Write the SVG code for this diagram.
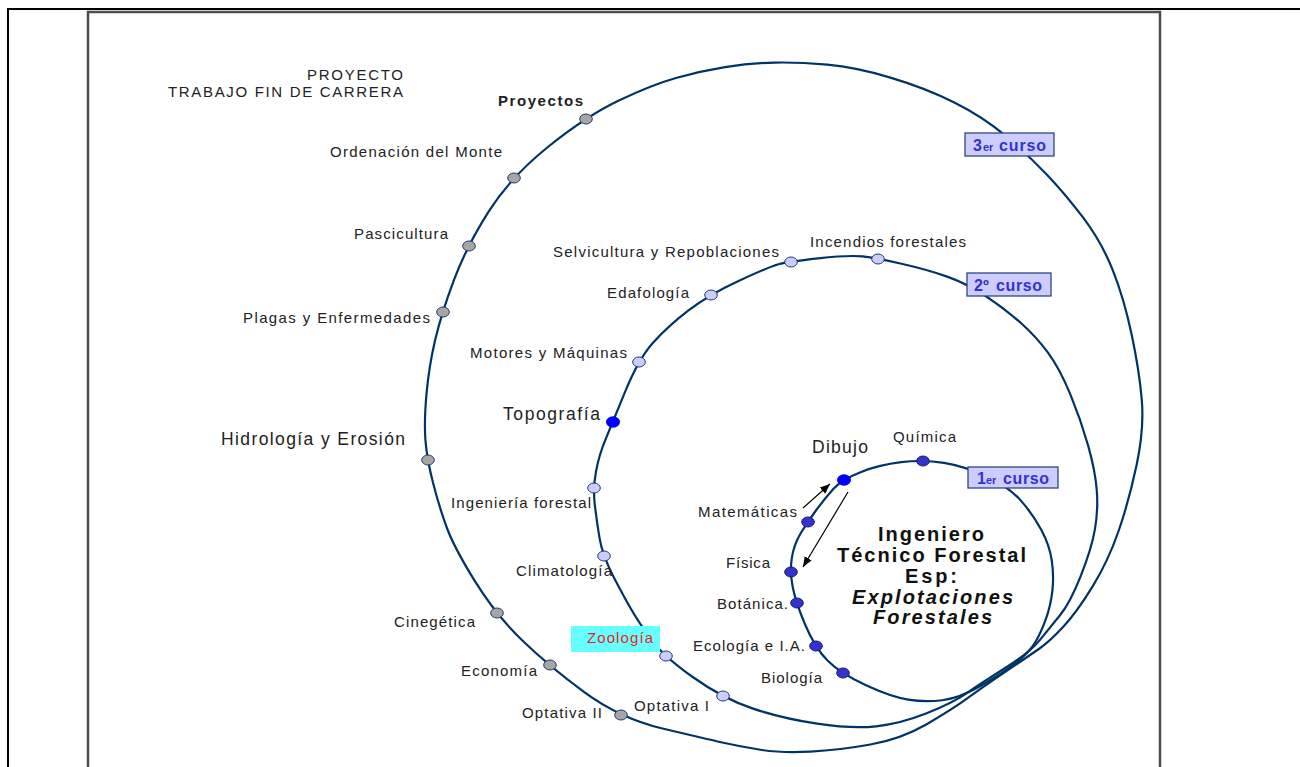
<svg xmlns="http://www.w3.org/2000/svg" width="1300" height="767" viewBox="0 0 1300 767">
<style>
.lbl{font-family:"Liberation Sans",Arial,sans-serif;font-size:15px;fill:#222}
.big{font-size:17.5px}
.b{font-weight:bold}
.curve{fill:none;stroke:#003366;stroke-width:2.2}
.arr{stroke:#000;stroke-width:1.2;fill:none;marker-end:url(#ah)}
.g3{fill:#a6a6a6;stroke:#1f3b6f;stroke-width:1}
.g2{fill:#ccccff;stroke:#1f3b6f;stroke-width:1}
.g1{fill:#3333cc;stroke:#1a1a80;stroke-width:1}
.g0{fill:#0000ff;stroke:none}
.cbox{fill:#ccccff;stroke:#2f4a7a;stroke-width:1.3}
.ct{font-family:"Liberation Sans",Arial,sans-serif;font-weight:bold;fill:#3333cc}
.center{font-family:"Liberation Sans",Arial,sans-serif;font-weight:bold;font-size:20px;fill:#111}
</style>
<defs>
<marker id="ah" markerUnits="userSpaceOnUse" markerWidth="11" markerHeight="9" refX="10" refY="4" orient="auto">
<path d="M0,0 L10,4 L0,8 z" fill="#000"/>
</marker>
</defs>
<rect x="0" y="0" width="1300" height="767" fill="#fff"/>
<g id="frames" fill="none">
<rect x="8" y="9" width="1310" height="790" stroke="#000" stroke-width="2"/>
<rect x="88" y="12" width="1072" height="790" stroke="#4d4d4d" stroke-width="2.5"/>
</g>
<g id="connectors">
<path class="curve" d="M774.55,62.6 Q799.1,62.1 827.4,64.7 Q855.75,67.25 890.4,77.6 Q925.1,87.9 954.3,102.4 Q983.5,116.9 1006.3,136.4 Q1029.1,155.9 1047.2,174.9 Q1065.25,193.9 1083.4,217.9 Q1101.5,241.9 1112.75,270.15 Q1124,298.4 1131.7,334.8 Q1139.4,371.25 1141.8,400 Q1144.25,428.75 1136.6,465 Q1128.9,501.25 1118.5,531.25 Q1108.1,561.25 1092.35,586.9 Q1076.6,612.5 1063.05,627.05 Q1049.5,641.6 1039.55,648.5 Q1029.6,655.4 1005.6,671.65 Q981.6,687.9 966.85,698.7 Q952.1,709.5 926.7,724.2 Q901.25,738.9 870.4,744.5 Q839.6,750.1 810.4,751.6 Q781.25,753.1 760.4,749.75 Q739.6,746.4 722.25,742.5 Q704.9,738.6 662.45,728.55 Q620,718.5 583.9,691.9 Q547.75,665.25 521.6,639.8 Q495.4,614.4 474.75,580.95 Q454.1,547.5 446.75,527.5 Q439.4,507.5 433.15,483.3 Q426.9,459.1 425.45,440.4 Q424,421.75 426.5,393.9 Q429,366 435.2,339.75 Q441.4,313.5 454,279.9 Q466.6,246.25 488.6,211.6 Q510.6,176.9 548.8,146.25 Q587,115.6 619.4,100.25 Q651.75,84.9 675.9,78 Q700,71.1 725,67.1 Q750,63.1 774.55,62.6 Z"/>
<path class="curve" d="M818.1,258.4 Q848.9,254.9 862.45,256.45 Q876,258 901.45,263.75 Q926.9,269.5 947.15,276.6 Q967.4,283.75 986.7,296.75 Q1006,309.75 1020.9,323 Q1035.75,336.25 1047.6,352.1 Q1059.4,367.9 1070.15,393.95 Q1080.9,420 1088.15,445.6 Q1095.4,471.25 1096.8,490.6 Q1098.25,510 1094.9,529.4 Q1091.6,548.75 1080.8,575.8 Q1070,602.9 1060.2,615 Q1050.4,627.1 1040,639.85 Q1029.6,652.6 1005.6,667.8 Q981.6,683 966.85,693.1 Q952.1,703.25 926.05,713.5 Q900,723.75 876.05,726.3 Q852.1,728.9 817.1,723.65 Q782.1,718.4 752.35,708.4 Q722.6,698.4 692.35,676.75 Q662.1,655.1 650.35,638.55 Q638.6,622 632.2,611.05 Q625.75,600.1 614,577.7 Q602.25,555.25 599.4,537.4 Q596.5,519.5 594.7,503.8 Q592.9,488.1 596,471.55 Q599.1,455 605.25,440.2 Q611.4,425.4 624.95,392.15 Q638.5,358.9 653,342.75 Q667.5,326.6 688.45,310.4 Q709.4,294.25 739.6,280.4 Q769.75,266.6 778.5,264.25 Q787.25,261.9 818.1,258.4 Z"/>
<path class="curve" d="M901.1,462.2 Q923.1,459.5 944.05,462.95 Q965,466.4 987.05,476.75 Q1009.1,487.1 1021.1,500.85 Q1033.1,514.6 1041.25,529.8 Q1049.4,545 1051.7,560 Q1054,575 1052.45,590.1 Q1050.9,605.25 1045.65,619.6 Q1040.4,634 1034.6,643.45 Q1028.75,652.9 1015.2,663.4 Q1001.6,673.9 980.5,686 Q959.4,698.1 942.2,700.25 Q925,702.4 908.25,699.7 Q891.5,697 866,685.3 Q840.5,673.6 827.75,660.8 Q815,648 805.2,624.75 Q795.4,601.5 792.6,586.5 Q789.75,571.5 791.8,558 Q793.9,544.5 800.7,533.25 Q807.5,522 816.1,510.25 Q824.75,498.5 833.3,488.95 Q841.9,479.4 860.5,472.15 Q879.1,464.9 901.1,462.2 Z"/>
<line class="arr" x1="803" y1="508" x2="830" y2="484"/>
<line class="arr" x1="848" y1="492" x2="803" y2="567"/>
</g>
<g id="title">
<text class="lbl" x="307" y="80" textLength="96" lengthAdjust="spacing">PROYECTO</text>
<text class="lbl" x="168" y="97" textLength="235" lengthAdjust="spacing">TRABAJO FIN DE CARRERA</text>
</g>
<g id="curso3">
<rect class="cbox" x="965" y="133" width="89" height="23"/>
<text class="ct" x="973" y="151" font-size="16">3</text>
<text class="ct" x="983" y="151" font-size="11">er</text>
<text class="ct" x="999" y="151" font-size="16" textLength="47" lengthAdjust="spacing">curso</text>
</g>
<g id="curso2">
<rect class="cbox" x="967" y="273" width="84" height="23"/>
<text class="ct" x="974" y="291" font-size="16">2º</text>
<text class="ct" x="996" y="291" font-size="16" textLength="46" lengthAdjust="spacing">curso</text>
</g>
<g id="curso1">
<rect class="cbox" x="968" y="467" width="90" height="21"/>
<text class="ct" x="977" y="484" font-size="16">1</text>
<text class="ct" x="986" y="484" font-size="11">er</text>
<text class="ct" x="1003" y="484" font-size="16" textLength="46" lengthAdjust="spacing">curso</text>
</g>
<g id="n-proyectos"><ellipse class="g3" cx="586" cy="119" rx="6.3" ry="5"/><text class="lbl b" x="498" y="106" textLength="85" lengthAdjust="spacing">Proyectos</text></g>
<g id="n-ordenacion"><ellipse class="g3" cx="514" cy="178" rx="6.3" ry="5"/><text class="lbl" x="330" y="157" textLength="172" lengthAdjust="spacing">Ordenación del Monte</text></g>
<g id="n-pascicultura"><ellipse class="g3" cx="469" cy="246" rx="6.3" ry="5"/><text class="lbl" x="354" y="239" textLength="94" lengthAdjust="spacing">Pascicultura</text></g>
<g id="n-plagas"><ellipse class="g3" cx="443" cy="312" rx="6.3" ry="5"/><text class="lbl" x="243" y="323" textLength="187" lengthAdjust="spacing">Plagas y Enfermedades</text></g>
<g id="n-hidrologia"><ellipse class="g3" cx="428" cy="460" rx="6.3" ry="5"/><text class="lbl big" x="221" y="445" textLength="184" lengthAdjust="spacing">Hidrología y Erosión</text></g>
<g id="n-cinegetica"><ellipse class="g3" cx="497" cy="613" rx="6.3" ry="5"/><text class="lbl" x="394" y="627" textLength="81" lengthAdjust="spacing">Cinegética</text></g>
<g id="n-economia"><ellipse class="g3" cx="550" cy="665" rx="6.3" ry="5"/><text class="lbl" x="461" y="676" textLength="76" lengthAdjust="spacing">Economía</text></g>
<g id="n-optativa2"><ellipse class="g3" cx="621" cy="715" rx="6.3" ry="5"/><text class="lbl" x="522" y="718" textLength="80" lengthAdjust="spacing">Optativa II</text></g>
<g id="n-selvicultura"><ellipse class="g2" cx="791" cy="262" rx="6.3" ry="5"/><text class="lbl" x="553" y="257" textLength="226" lengthAdjust="spacing">Selvicultura y Repoblaciones</text></g>
<g id="n-incendios"><ellipse class="g2" cx="878" cy="259" rx="6.3" ry="5"/><text class="lbl" x="810" y="247" textLength="156" lengthAdjust="spacing">Incendios forestales</text></g>
<g id="n-edafologia"><ellipse class="g2" cx="711" cy="295" rx="6.3" ry="5"/><text class="lbl" x="607" y="298" textLength="82" lengthAdjust="spacing">Edafología</text></g>
<g id="n-motores"><ellipse class="g2" cx="639" cy="362" rx="6.3" ry="5"/><text class="lbl" x="470" y="358" textLength="157" lengthAdjust="spacing">Motores y Máquinas</text></g>
<g id="n-topografia"><ellipse class="g0" cx="613" cy="422" rx="7" ry="5.7"/><text class="lbl big" x="503" y="420" textLength="97" lengthAdjust="spacing">Topografía</text></g>
<g id="n-ingenieria"><ellipse class="g2" cx="594" cy="488" rx="6.3" ry="5"/><text class="lbl" x="451" y="508" textLength="140" lengthAdjust="spacing">Ingeniería forestal</text></g>
<g id="n-climatologia"><ellipse class="g2" cx="604" cy="556" rx="6.3" ry="5"/><text class="lbl" x="516" y="576" textLength="96" lengthAdjust="spacing">Climatología</text></g>
<g id="n-zoologia"><rect x="571" y="626" width="89" height="26" fill="#66ffff"/><ellipse class="g2" cx="666" cy="656" rx="6.3" ry="5"/><text class="lbl" x="587" y="643" textLength="66" lengthAdjust="spacing" style="fill:#ee1c1c">Zoología</text></g>
<g id="n-optativa1"><ellipse class="g2" cx="723" cy="696" rx="6.3" ry="5"/><text class="lbl" x="634" y="711" textLength="75" lengthAdjust="spacing">Optativa I</text></g>
<g id="n-dibujo"><ellipse class="g0" cx="844" cy="480" rx="7" ry="5.7"/><text class="lbl big" x="812" y="453" textLength="56" lengthAdjust="spacing">Dibujo</text></g>
<g id="n-quimica"><ellipse class="g1" cx="923" cy="461" rx="6.3" ry="5"/><text class="lbl" x="893" y="442" textLength="63" lengthAdjust="spacing">Química</text></g>
<g id="n-matematicas"><ellipse class="g1" cx="808" cy="522" rx="6.3" ry="5"/><text class="lbl" x="698" y="517" textLength="99" lengthAdjust="spacing">Matemáticas</text></g>
<g id="n-fisica"><ellipse class="g1" cx="791" cy="572" rx="6.3" ry="5"/><text class="lbl" x="726" y="568" textLength="44" lengthAdjust="spacing">Física</text></g>
<g id="n-botanica"><ellipse class="g1" cx="797" cy="603" rx="6.3" ry="5"/><text class="lbl" x="717" y="609" textLength="71" lengthAdjust="spacing">Botánica.</text></g>
<g id="n-ecologia"><ellipse class="g1" cx="816" cy="646" rx="6.3" ry="5"/><text class="lbl" x="693" y="651" textLength="112" lengthAdjust="spacing">Ecología e I.A.</text></g>
<g id="n-biologia"><ellipse class="g1" cx="843" cy="673" rx="6.3" ry="5"/><text class="lbl" x="761" y="683" textLength="61" lengthAdjust="spacing">Biología</text></g>
<g id="center-title">
<text class="center" x="878" y="541" textLength="106" lengthAdjust="spacing">Ingeniero</text>
<text class="center" x="837" y="562" textLength="189" lengthAdjust="spacing">Técnico Forestal</text>
<text class="center" x="905" y="583" textLength="52" lengthAdjust="spacing">Esp:</text>
<text class="center" x="852" y="604" textLength="161" lengthAdjust="spacing" font-style="italic">Explotaciones</text>
<text class="center" x="873" y="624" textLength="119" lengthAdjust="spacing" font-style="italic">Forestales</text>
</g>
</svg>
